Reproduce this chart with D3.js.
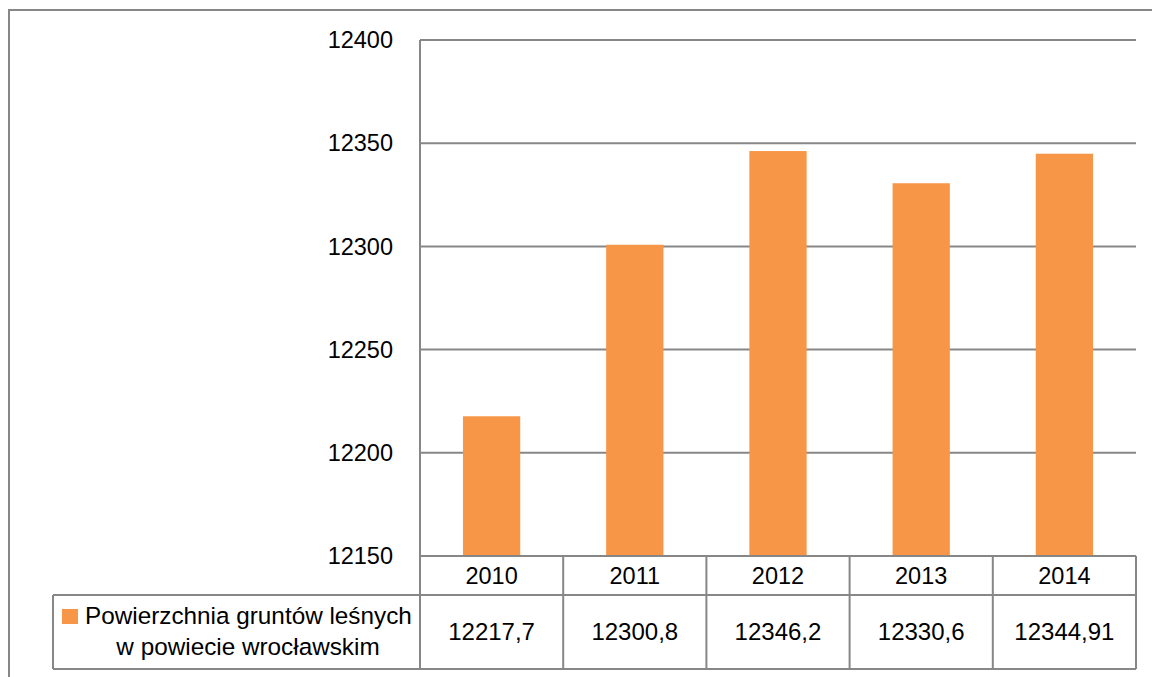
<!DOCTYPE html>
<html>
<head>
<meta charset="utf-8">
<script src="https://cdn.jsdelivr.net/npm/d3@7"></script>
<style>
  body { margin: 0; background: #fff; }
  svg text { font-family: "Liberation Sans", Arial, sans-serif; fill: #000; }
</style>
</head>
<body>
<svg id="chart" width="1152" height="677"></svg>
<script>
// data
var years = ["2010", "2011", "2012", "2013", "2014"];
var areaValues = [12217.7, 12300.8, 12346.2, 12330.6, 12344.91];
var areaLabels = ["12217,7", "12300,8", "12346,2", "12330,6", "12344,91"];
var yTicks = [12150, 12200, 12250, 12300, 12350, 12400];
var seriesName = ["Powierzchnia gruntów leśnych", "w powiecie wrocławskim"];

var gridColor = "#878787";
var barColor = "#f79646";

var svg = d3.select("#chart");

// outer chart frame (right and bottom edges fall outside the picture)
svg.append("rect")
  .attr("x", 9).attr("y", 10)
  .attr("width", 1160).attr("height", 700)
  .attr("fill", "none").attr("stroke", gridColor).attr("stroke-width", 2);

var plotLeft = 420, plotRight = 1136, plotTop = 40, plotBottom = 556;

var x = d3.scaleBand().domain(years).range([plotLeft, plotRight]).paddingInner(0.6).paddingOuter(0.3);
var xCell = d3.scaleBand().domain(years).range([plotLeft, plotRight]);
var y = d3.scaleLinear().domain([12150, 12400]).range([plotBottom, plotTop]);

// gridlines behind bars
svg.append("g").selectAll("line")
  .data(yTicks)
  .join("line")
  .attr("x1", plotLeft).attr("x2", plotRight)
  .attr("y1", d => y(d)).attr("y2", d => y(d))
  .attr("stroke", gridColor).attr("stroke-width", 2);

// bars
svg.append("g").selectAll("rect")
  .data(areaValues)
  .join("rect")
  .attr("x", (d, i) => x(years[i]))
  .attr("width", x.bandwidth())
  .attr("y", d => y(d))
  .attr("height", d => y(12150) - y(d))
  .attr("fill", barColor);

// y axis line + labels
svg.append("line")
  .attr("x1", plotLeft).attr("x2", plotLeft)
  .attr("y1", plotTop).attr("y2", 669)
  .attr("stroke", gridColor).attr("stroke-width", 2);

svg.append("g").selectAll("text")
  .data(yTicks)
  .join("text")
  .attr("x", 393)
  .attr("y", d => y(d))
  .attr("dy", "0.35em")
  .attr("text-anchor", "end")
  .style("font-size", "23.5px")
  .text(d => d);

// data table
var rowTop = 556, rowMid = 595, rowBot = 669, tableLeft = 53;
var tbl = svg.append("g").attr("stroke", gridColor).attr("stroke-width", 2);
tbl.append("line").attr("x1", plotLeft).attr("x2", plotRight).attr("y1", rowTop).attr("y2", rowTop);
tbl.append("line").attr("x1", tableLeft).attr("x2", plotRight).attr("y1", rowMid).attr("y2", rowMid);
tbl.append("line").attr("x1", tableLeft).attr("x2", plotRight).attr("y1", rowBot).attr("y2", rowBot);
tbl.append("line").attr("x1", tableLeft).attr("x2", tableLeft).attr("y1", rowMid).attr("y2", rowBot);
tbl.selectAll("line.col")
  .data(years)
  .join("line")
  .attr("class", "col")
  .attr("x1", d => xCell(d) + xCell.bandwidth())
  .attr("x2", d => xCell(d) + xCell.bandwidth())
  .attr("y1", rowTop).attr("y2", rowBot);

svg.append("g").selectAll("text")
  .data(years)
  .join("text")
  .attr("x", d => xCell(d) + xCell.bandwidth() / 2)
  .attr("y", (rowTop + rowMid) / 2)
  .attr("dy", "0.35em")
  .attr("text-anchor", "middle")
  .style("font-size", "23.5px")
  .text(d => d);

svg.append("g").selectAll("text")
  .data(areaLabels)
  .join("text")
  .attr("x", (d, i) => xCell(years[i]) + xCell.bandwidth() / 2)
  .attr("y", (rowMid + rowBot) / 2)
  .attr("dy", "0.35em")
  .attr("text-anchor", "middle")
  .style("font-size", "24px")
  .text(d => d);

// legend key inside the table
svg.append("rect")
  .attr("x", 62).attr("y", 609)
  .attr("width", 16).attr("height", 15)
  .attr("fill", barColor);

svg.append("text")
  .attr("x", 85).attr("y", 624)
  .style("font-size", "24.3px")
  .text(seriesName[0]);

svg.append("text")
  .attr("x", 248).attr("y", 655)
  .attr("text-anchor", "middle")
  .style("font-size", "24.3px")
  .text(seriesName[1]);
</script>
</body>
</html>
